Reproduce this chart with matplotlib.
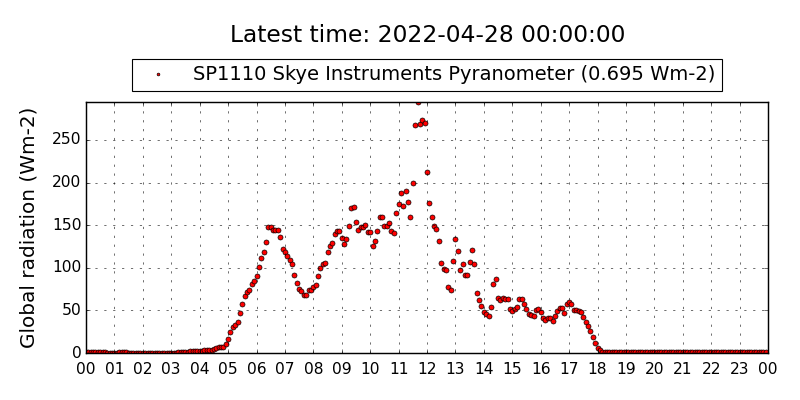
import numpy as np
import matplotlib
matplotlib.use('Agg')
import matplotlib.pyplot as plt
import matplotlib.dates as mdates

plt.style.use('classic')

# 5-minute global radiation (Wm-2), one row per hour
h00 = [0.6, 0.7, 0.8, 0.9, 1.0, 1.2, 0.9, 0.7, 0.6, 0.5, 0.5, 0.4]
h01 = [0.4, 0.5, 0.6, 0.8, 0.7, 0.6, 0.5, 0.4, 0.4, 0.3, 0.3, 0.3]
h02 = [0.3, 0.3, 0.3, 0.3, 0.3, 0.3, 0.3, 0.3, 0.3, 0.3, 0.3, 0.3]
h03 = [0.3, 0.4, 0.5, 0.6, 0.8, 1.0, 1.3, 1.5, 1.8, 2.0, 2.2, 2.4]
h04 = [2.5, 2.5, 3.0, 3.0, 4.0, 4.0, 5.0, 6.0, 7.0, 6.5, 7.0, 10.0]
h05 = [17, 25, 30, 33, 36, 47, 58, 67, 72, 74, 81, 85]
h06 = [90, 101, 112, 118.6, 130.6, 148, 148, 144, 144, 144, 135.7, 122.5]
h07 = [118.6, 114, 109, 104, 92, 82, 75.6, 72.5, 68.6, 68.6, 73.6, 74.4]
h08 = [77, 80, 90, 100, 104.6, 106, 118, 126, 129.5, 140, 143, 143]
h09 = [135, 128, 134, 149, 170, 171, 153.5, 144.6, 147.7, 148, 150, 142]
h10 = [142, 125, 131, 143, 160, 160, 149, 149, 153, 143, 141, 164]
h11 = [175, 187.6, 172, 190, 177, 160, 200, 268, 294.6, 269, 273.6, 270]
h12 = [212, 176, 160, 148.5, 145.7, 132, 106, 99, 98, 77.5, 73.6, 108.5]
h13 = [134, 120, 97, 104, 92, 92, 107, 121, 104, 70, 62, 55]
h14 = [48, 45.7, 43.4, 54, 80.6, 86.4, 64, 62, 64, 63, 63, 51.5]
h15 = [49, 51.5, 54, 63, 63, 57, 51.5, 45.7, 44.6, 43.4, 50, 51.5]
h16 = [48, 41, 38.8, 41, 41, 37.6, 43.4, 49, 52.7, 52.7, 47, 57]
h17 = [59.7, 57, 50, 50, 49, 48, 42, 36.4, 31.4, 26, 19, 12]
h18 = [6.0, 3.0, 1.5, 1.0, 0.8, 0.7, 0.7, 0.6, 0.6, 0.6, 0.6, 0.6]
h19 = [0.6, 0.6, 0.6, 0.6, 0.6, 0.6, 0.6, 0.6, 0.6, 0.6, 0.6, 0.6]
h20 = [0.6, 0.6, 0.6, 0.6, 0.6, 0.6, 0.7, 0.7, 0.7, 0.7, 0.7, 0.7]
h21 = [0.7, 0.7, 0.7, 0.7, 0.7, 0.7, 0.7, 0.7, 0.7, 0.7, 0.7, 0.7]
h22 = [0.7, 0.7, 0.7, 0.7, 0.7, 0.7, 0.7, 0.7, 0.7, 0.7, 0.7, 0.7]
h23 = [0.7, 0.7, 0.7, 0.7, 0.7, 0.7, 0.7, 0.7, 0.7, 0.7, 0.7, 0.695]

radiation = np.array(h00 + h01 + h02 + h03 + h04 + h05 + h06 + h07 + h08 + h09 + h10 + h11 +
                     h12 + h13 + h14 + h15 + h16 + h17 + h18 + h19 + h20 + h21 + h22 + h23)

start = np.datetime64('2022-04-27T00:00')
end = np.datetime64('2022-04-28T00:00')
times = start + np.arange(len(radiation)) * np.timedelta64(5, 'm')

latest = radiation[-1]
label = 'SP1110 Skye Instruments Pyranometer (%.3f Wm-2)' % latest

fig = plt.figure(figsize=(10, 5), dpi=80, facecolor='white')
ax = fig.add_axes([0.1075, 0.1175, 0.8525, 0.6275])

ax.plot(times, radiation, 'o', color='red', markeredgecolor='black',
        markeredgewidth=0.6, markersize=4.5, label=label)

ax.set_xlim(start, end)
ax.set_ylim(0, radiation.max())
ax.xaxis.set_major_locator(mdates.HourLocator())
ax.xaxis.set_major_formatter(mdates.DateFormatter('%H'))
ax.tick_params(labelsize=14)
ax.tick_params(axis='x', pad=8)
ax.set_ylabel('Global radiation (Wm-2)', fontsize=18, labelpad=12)
ax.grid(True, linestyle=(0, (2, 6)), linewidth=0.5, color='black')
for sp in ax.spines.values():
    sp.set_linewidth(1.3)

ax.legend(loc='lower center', bbox_to_anchor=(0.5, 1.02), numpoints=1,
          fontsize=17.5, markerscale=0.55, borderaxespad=0.3,
          handlelength=2.0, borderpad=0.35)
fig.suptitle('Latest time: 2022-04-28 00:00:00', fontsize=21, x=0.534, y=0.94)

fig.savefig('out.png', dpi=80, facecolor='white')
